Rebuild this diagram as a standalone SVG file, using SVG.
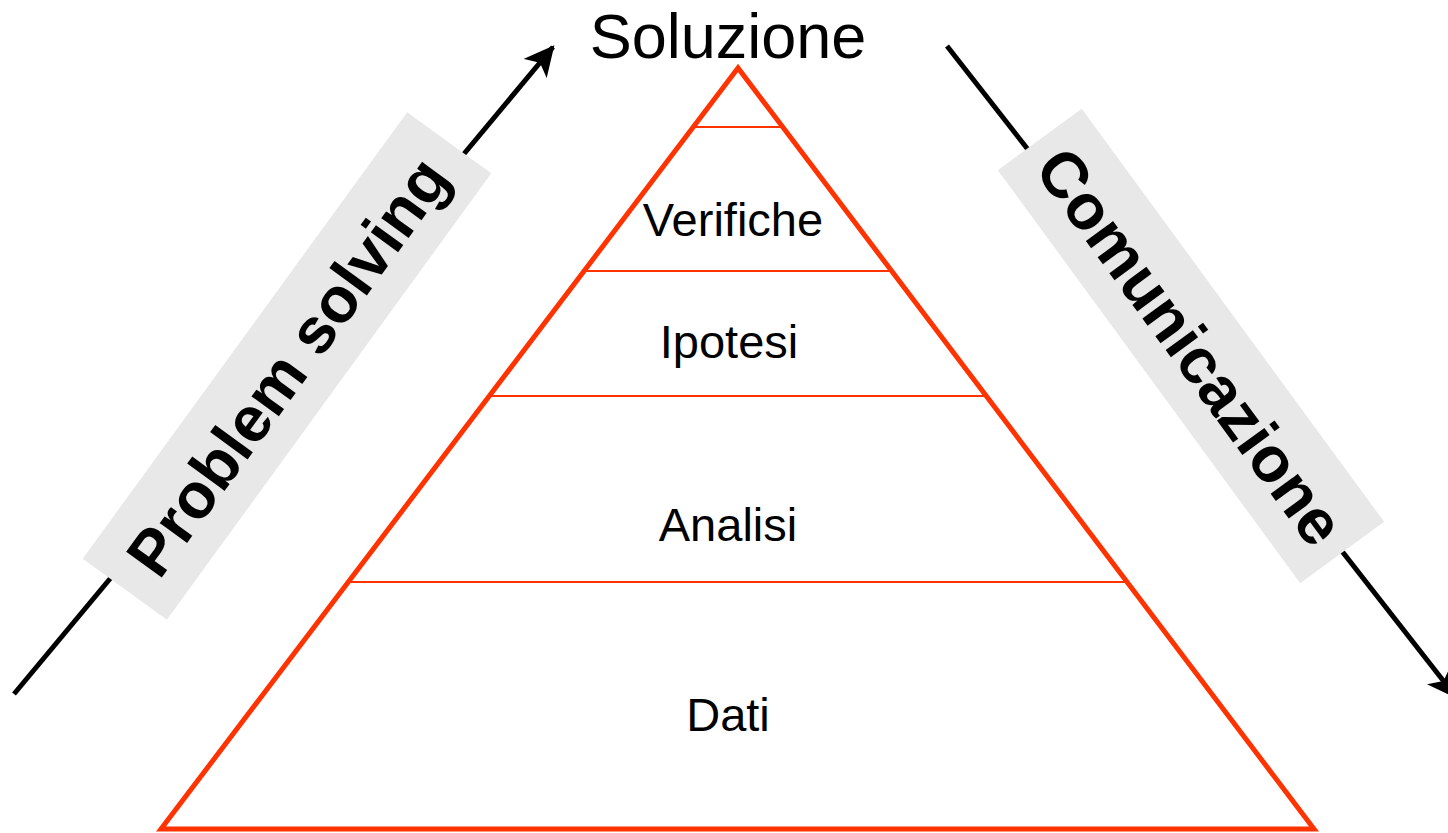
<svg xmlns="http://www.w3.org/2000/svg" width="1448" height="833" viewBox="0 0 1448 833">
<style>
.lbl{font-family:"Liberation Sans",Arial,sans-serif;font-size:47px;fill:#000;text-anchor:middle}
.side{font-family:"Liberation Sans",Arial,sans-serif;font-size:64px;font-weight:bold;fill:#000;text-anchor:middle}
.title{font-family:"Liberation Sans",Arial,sans-serif;font-size:63px;fill:#000;text-anchor:middle}
.div{stroke:#ff3300;stroke-width:2;fill:none}
.arr{stroke:#000;stroke-width:5;fill:none}
.box{fill:#e8e8e8}
</style>
<defs>
<marker id="ah" markerUnits="userSpaceOnUse" markerWidth="30" markerHeight="30" viewBox="0 0 28 28" refX="26" refY="14" orient="auto">
<path d="M0,0 L28,14 L0,28 L7,14 Z" fill="#000"/>
</marker>
</defs>
<rect width="1448" height="833" fill="#fff"/>
<g id="connectors">
<line class="arr" x1="14" y1="694" x2="553" y2="47" marker-end="url(#ah)"/>
<line class="arr" x1="947" y1="46" x2="1456" y2="697" marker-end="url(#ah)"/>
</g>
<g id="pyramid">
<line class="div" x1="693" y1="127" x2="783" y2="127"/>
<line class="div" x1="584" y1="271" x2="892" y2="271"/>
<line class="div" x1="489" y1="396" x2="986" y2="396"/>
<line class="div" x1="348" y1="582" x2="1127" y2="582"/>
<polygon points="738,68 161,829 1314,829" fill="none" stroke="#ff3300" stroke-width="5" stroke-linejoin="miter"/>
</g>
<g id="title"><text class="title" x="728" y="58">Soluzione</text></g>
<g id="verifiche"><text class="lbl" x="733" y="236">Verifiche</text></g>
<g id="ipotesi"><text class="lbl" x="729" y="358">Ipotesi</text></g>
<g id="analisi"><text class="lbl" x="728" y="541">Analisi</text></g>
<g id="dati"><text class="lbl" x="728" y="731">Dati</text></g>
<g id="problem-solving" transform="translate(287,366) rotate(-54)">
<rect class="box" x="-276" y="-52" width="552" height="104"/>
<text class="side" x="0" y="23">Problem solving</text>
</g>
<g id="comunicazione" transform="translate(1191,346) rotate(53.8)">
<rect class="box" x="-256" y="-52" width="512" height="104"/>
<text class="side" x="0" y="23">Comunicazione</text>
</g>
</svg>
